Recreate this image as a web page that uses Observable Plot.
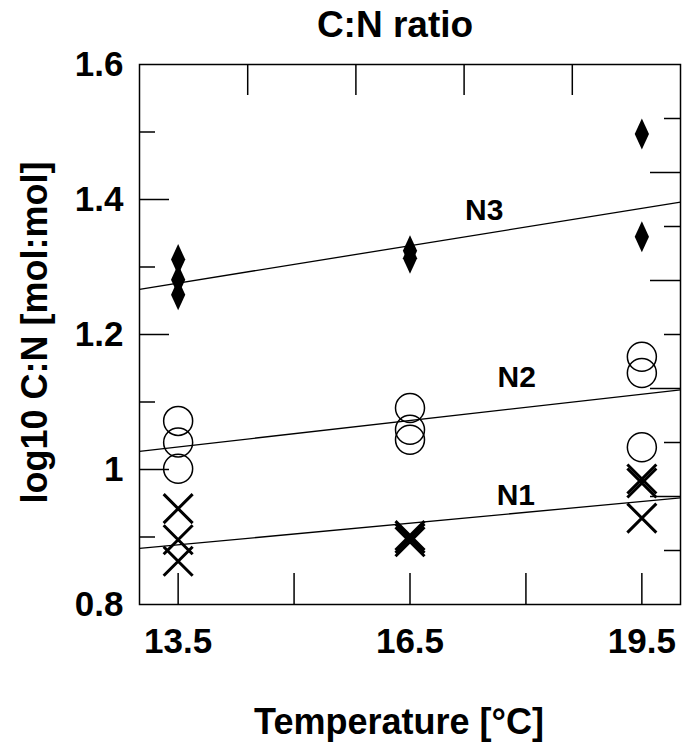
<!DOCTYPE html>
<html><head><meta charset="utf-8">
<script src="https://cdn.jsdelivr.net/npm/d3@7"></script>
<script src="https://cdn.jsdelivr.net/npm/@observablehq/plot@0.6"></script>
<style>body{margin:0;background:#fff}</style>
</head><body><div id="chart"></div>
<script>
// ---- data ----
const titleText = ["C:N ratio"];
const xLabel = ["Temperature [°C]"];
const yLabel = ["log10 C:N [mol:mol]"];

const n1Temp   = [13.5, 13.5, 13.5, 16.5, 16.5, 16.5, 19.5, 19.5, 19.5];
const n1Values = [0.942, 0.896, 0.864, 0.893, 0.898, 0.902, 0.980, 0.986, 0.928];
const n2Temp   = [13.5, 13.5, 13.5, 16.5, 16.5, 16.5, 19.5, 19.5, 19.5];
const n2Values = [1.072, 1.040, 1.001, 1.091, 1.059, 1.044, 1.167, 1.143, 1.033];
const n3Temp   = [13.5, 13.5, 13.5, 16.5, 16.5, 19.5, 19.5];
const n3Values = [1.311, 1.281, 1.259, 1.324, 1.313, 1.497, 1.345];

const fitSeries = ["N1", "N2", "N3"];
const fitStartX = [13, 13, 13];
const fitStartY = [0.883, 1.027, 1.267];
const fitEndX   = [20, 20, 20];
const fitEndY   = [0.958, 1.118, 1.396];
const labelX    = [17.87, 17.88, 17.46];
const labelY    = [0.962, 1.137, 1.384];

const xTickLabels = [13.5, 16.5, 19.5];
const yTickLabels = [0.8, 1, 1.2, 1.4, 1.6];
const bottomTicks = [13.5, 15, 16.5, 18, 19.5];
const topTicks    = [14.4, 15.8, 17.2, 18.6];
const leftMajor   = [1.0, 1.2, 1.4];
const leftMinor   = [0.9, 1.1, 1.3, 1.5];
const rightMajor  = [0.96, 1.12, 1.28, 1.44];
const rightMinor  = [0.88, 1.04, 1.20, 1.36, 1.52];

// ---- build tables ----
const toPts = (xs, ys) => xs.map((x, i) => ({x, y: ys[i]}));
const n1 = toPts(n1Temp, n1Values);
const n2 = toPts(n2Temp, n2Values);
const n3 = toPts(n3Temp, n3Values);
const fits = fitSeries.map((s, i) => ({s, x1: fitStartX[i], y1: fitStartY[i], x2: fitEndX[i], y2: fitEndY[i], lx: labelX[i], ly: labelY[i]}));

// custom symbols
const tallDiamond = {draw(ctx, size) {
  const r = Math.sqrt(size / Math.PI), w = r * 0.46;
  ctx.moveTo(0, -r); ctx.lineTo(w, 0); ctx.lineTo(0, r); ctx.lineTo(-w, 0); ctx.closePath();
}};
const cross = {draw(ctx, size) {
  const r = Math.sqrt(size / Math.PI);
  ctx.moveTo(-r, -r); ctx.lineTo(r, r); ctx.moveTo(r, -r); ctx.lineTo(-r, r);
}};

const W = 690, H = 751, mL = 139, mR = 10, mT = 64, mB = 147;
const fw = W - mL - mR, fh = H - mT - mB;
const longT = 30, shortT = 16;

const chart = Plot.plot({
  width: W, height: H,
  marginLeft: mL, marginRight: mR, marginTop: mT, marginBottom: mB,
  style: {fontFamily: "'Liberation Sans', Arial, sans-serif", fontWeight: "bold", fontSize: "35px", color: "black", background: "white"},
  x: {domain: [13, 20], label: null},
  y: {domain: [0.8, 1.6], label: null},
  marks: [
    // inward ticks
    Plot.tickY(leftMajor, {y: d => d, insetRight: fw - longT, stroke: "black", strokeWidth: 1.5}),
    Plot.tickY(leftMinor, {y: d => d, insetRight: fw - shortT, stroke: "black", strokeWidth: 1.5}),
    Plot.tickY(rightMajor, {y: d => d, insetLeft: fw - longT, stroke: "black", strokeWidth: 1.5}),
    Plot.tickY(rightMinor, {y: d => d, insetLeft: fw - shortT, stroke: "black", strokeWidth: 1.5}),
    Plot.tickX(bottomTicks, {x: d => d, insetTop: fh - 31, stroke: "black", strokeWidth: 1.5}),
    Plot.tickX(topTicks, {x: d => d, insetBottom: fh - 31, stroke: "black", strokeWidth: 1.5}),
    Plot.frame({stroke: "black", strokeWidth: 1.5}),
    // fitted lines
    Plot.link(fits, {x1: "x1", y1: "y1", x2: "x2", y2: "y2", stroke: "black", strokeWidth: 1.3}),
    Plot.text(fits, {x: "lx", y: "ly", text: "s", fontSize: 30, fontWeight: "bold", fill: "black"}),
    // points
    Plot.dot(n2, {x: "x", y: "y", symbol: "circle", r: 14.5, fill: "none", stroke: "black", strokeWidth: 1.5}),
    Plot.dot(n1, {x: "x", y: "y", symbol: cross, r: 14.5, fill: "none", stroke: "black", strokeWidth: 3}),
    Plot.dot(n3, {x: "x", y: "y", symbol: tallDiamond, r: 15.5, fill: "black", stroke: "none"}),
    // axes
    Plot.axisY(yTickLabels, {tickSize: 0, tickPadding: 16, tickFormat: d => String(d), fontSize: 35, fontWeight: "bold", label: null}),
    Plot.axisX(xTickLabels, {tickSize: 0, tickPadding: 24, tickFormat: d => String(d), fontSize: 35, fontWeight: "bold", label: null}),
    // titles
    Plot.text(titleText, {text: d => d, frameAnchor: "top", dy: -39, dx: -15, fontSize: 37, fontWeight: "bold", lineAnchor: "middle", fill: "black"}),
    Plot.text(xLabel, {text: d => d, frameAnchor: "bottom", dy: 118, dx: -11, fontSize: 36, fontWeight: "bold", lineAnchor: "middle", fill: "black"}),
    Plot.text(yLabel, {text: d => d, frameAnchor: "left", textAnchor: "middle", dx: -104, dy: -2, rotate: -90, fontSize: 36, fontWeight: "bold", lineAnchor: "middle", fill: "black"})
  ]
});
document.getElementById("chart").appendChild(chart);
</script>
</body></html>
